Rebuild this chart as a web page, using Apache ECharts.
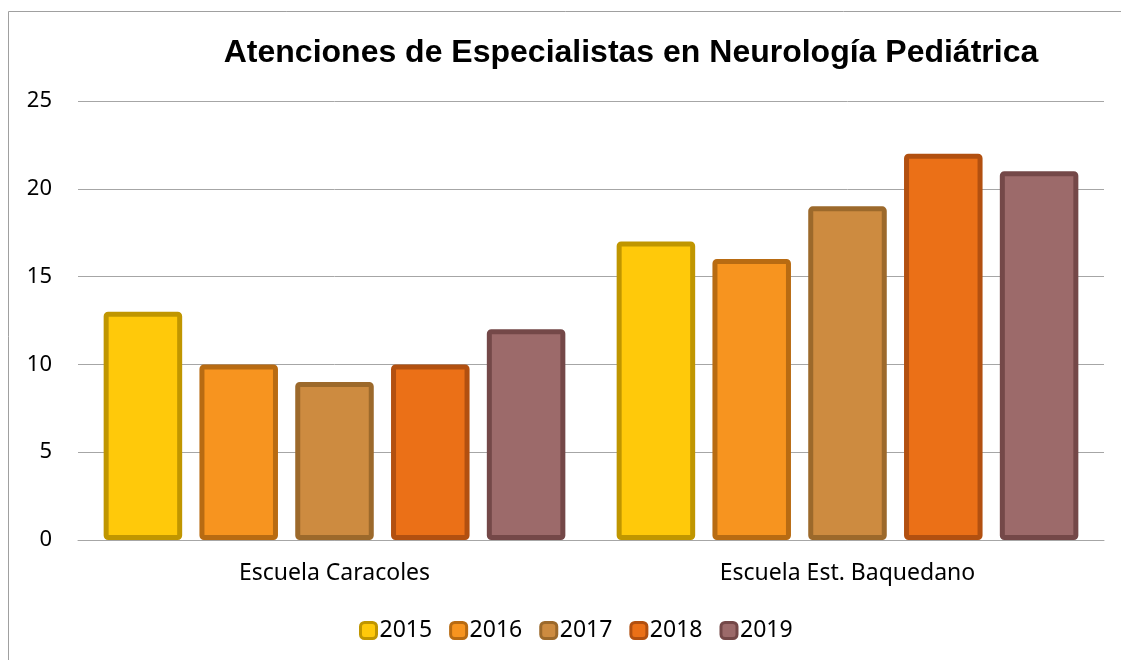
<!DOCTYPE html>
<html>
<head>
<meta charset="utf-8">
<script src="https://cdn.jsdelivr.net/npm/echarts@6/dist/echarts.min.js"></script>
<style>
  html, body { margin: 0; padding: 0; background: #fff; }
  #main { width: 1121px; height: 660px; }
</style>
</head>
<body>
<div id="main"></div>
<script>
// datos
var escuelas = ['Escuela Caracoles', 'Escuela Est. Baquedano'];
var anios = ['2015', '2016', '2017', '2018', '2019'];
var valores2015 = [13, 17];
var valores2016 = [10, 16];
var valores2017 = [9, 19];
var valores2018 = [10, 22];
var valores2019 = [12, 21];
var ticksY = [0, 5, 10, 15, 20, 25];

var rellenos = ['#FFC90A', '#F7941F', '#CD8B40', '#EB7017', '#9C6A6A'];
var bordes = ['#C09600', '#B86B12', '#9C692B', '#B25010', '#744848'];

var chart = echarts.init(document.getElementById('main'));

var datos = [valores2015, valores2016, valores2017, valores2018, valores2019];
var series = [];
for (var i = 0; i < anios.length; i++) {
    series.push({
        name: anios[i],
        type: 'bar',
        data: datos[i],
        barGap: '22%',
        barCategoryGap: '10%',
        itemStyle: {
            color: rellenos[i],
            borderColor: bordes[i],
            borderWidth: 5,
            borderRadius: 2
        }
    });
}

var option = {
    animation: false,
    textStyle: { fontFamily: 'Noto Sans' },
    title: {
        text: 'Atenciones de Especialistas en Neurología Pediátrica',
        left: 626,
        textAlign: 'center',
        top: 32,
        textStyle: {
            fontFamily: 'Liberation Sans',
            fontSize: 32,
            fontWeight: 'bold',
            color: '#000'
        }
    },
    legend: {
        top: 614,
        left: 354,
        itemWidth: 16,
        itemHeight: 16,
        itemGap: 17,
        icon: 'roundRect',
        itemStyle: { borderWidth: 3 },
        textStyle: { fontSize: 23, color: '#000', padding: [0, 0, 0, -2] }
    },
    grid: { left: 78, right: 17, top: 101, bottom: 120 },
    xAxis: {
        type: 'category',
        data: escuelas,
        axisLine: { lineStyle: { color: '#a6a6a6', width: 1 } },
        axisTick: { show: false },
        axisLabel: { fontSize: 23, color: '#000', margin: 22 }
    },
    yAxis: {
        type: 'value',
        min: ticksY[0],
        max: ticksY[ticksY.length - 1],
        interval: 5,
        axisLine: { show: false },
        axisTick: { show: false },
        axisLabel: { fontSize: 22, color: '#000', margin: 26 },
        splitLine: { lineStyle: { color: '#a6a6a6', width: 1 } }
    },
    graphic: [{
        type: 'rect',
        shape: { x: 8.5, y: 11.5, width: 1300, height: 800 },
        style: { fill: 'none', stroke: '#a0a0a0', lineWidth: 1 },
        silent: true
    }],
    series: series
};

chart.setOption(option);
</script>
</body>
</html>
